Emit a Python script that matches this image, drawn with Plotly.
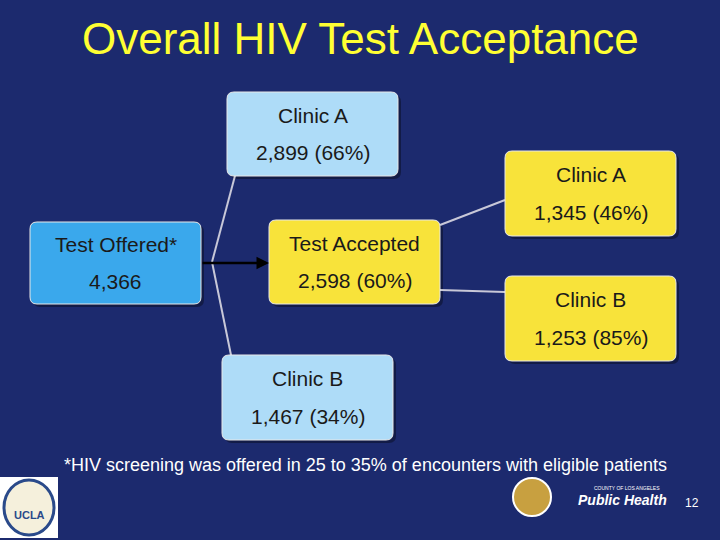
import plotly.graph_objects as go

# data
box_names = ["Test Offered*", "Test Accepted", "Clinic A", "Clinic B", "Clinic A", "Clinic B"]
box_counts = [4366, 2598, 2899, 1467, 1345, 1253]
box_pcts = [None, 60, 66, 34, 46, 85]
footnote = "*HIV screening was offered in 25 to 35% of encounters with eligible patients"
page_no = "12"

# layout boxes (x0, y0, x1, y1) in pixels, colour
boxes = [
    (30, 222, 201, 304, "#3aa8ec"),
    (269, 220, 440, 304, "#f8e33a"),
    (227, 92, 398, 176, "#aedcf8"),
    (222, 355, 393, 440, "#aedcf8"),
    (505, 151, 676, 236, "#f8e33a"),
    (505, 276, 676, 361, "#f8e33a"),
]

def rrect(x0, y0, x1, y1, r=7):
    return (f"M{x0+r},{y0} L{x1-r},{y0} Q{x1},{y0} {x1},{y0+r} L{x1},{y1-r} Q{x1},{y1} {x1-r},{y1} "
            f"L{x0+r},{y1} Q{x0},{y1} {x0},{y1-r} L{x0},{y0+r} Q{x0},{y0} {x0+r},{y0} Z")

fig = go.Figure()
shapes = []
annotations = []

# connector lines
for (xa, ya, xb, yb) in [(212, 262, 236, 172), (212, 262, 232, 360), (440, 225, 505, 200), (440, 290, 505, 292)]:
    shapes.append(dict(type="line", x0=xa, y0=ya, x1=xb, y1=yb, line=dict(color="#c8c8d8", width=2)))

for (x0, y0, x1, y1, c), name, cnt, pct in zip(boxes, box_names, box_counts, box_pcts):
    shapes.append(dict(type="path", path=rrect(x0 + 3, y0 + 3, x1 + 3, y1 + 3), fillcolor="rgba(0,0,0,0.35)", line_width=0, layer="below"))
    shapes.append(dict(type="path", path=rrect(x0, y0, x1, y1), fillcolor=c, line=dict(color="#e8e8e8", width=1)))
    val = f"{cnt:,}" + (f" ({pct}%)" if pct is not None else "")
    cx = (x0 + x1) / 2
    annotations.append(dict(x=cx, y=y0 + (y1 - y0) * 0.28, text=name, showarrow=False, font=dict(size=21, color="#1a1a1a")))
    annotations.append(dict(x=cx, y=y0 + (y1 - y0) * 0.72, text=val, showarrow=False, font=dict(size=21, color="#1a1a1a")))

# arrow
annotations.append(dict(x=269, y=263, ax=201, ay=263, xref="x", yref="y", axref="x", ayref="y", text="",
                        showarrow=True, arrowhead=2, arrowsize=1, arrowwidth=2.5, arrowcolor="black"))

annotations.append(dict(x=360, y=38, text="Overall HIV Test Acceptance", showarrow=False, font=dict(size=44, color="#ffff33")))
annotations.append(dict(x=62, y=465, text=footnote, showarrow=False, xanchor="left", font=dict(size=18, color="white")))
annotations.append(dict(x=692, y=503, text=page_no, showarrow=False, font=dict(size=12, color="white")))

# logos (simple stand-ins)
shapes.append(dict(type="rect", x0=0, y0=477, x1=58, y1=538, fillcolor="white", line_width=0))
shapes.append(dict(type="circle", x0=4, y0=480, x1=54, y1=535, fillcolor="#f5f0dc", line=dict(color="#2a4a8a", width=3)))
annotations.append(dict(x=29, y=515, text="<b>UCLA</b>", showarrow=False, font=dict(size=11, color="#2a4a8a")))
shapes.append(dict(type="circle", x0=513, y0=478, x1=551, y1=516, fillcolor="#c8a040", line=dict(color="white", width=2)))
annotations.append(dict(x=622, y=500, text="<b><i>Public Health</i></b>", showarrow=False, font=dict(size=14, color="white")))
annotations.append(dict(x=627, y=488, text="COUNTY OF LOS ANGELES", showarrow=False, font=dict(size=5, color="white")))

fig.update_layout(
    width=720, height=540, margin=dict(l=0, r=0, t=0, b=0),
    paper_bgcolor="#1c2a6e", plot_bgcolor="#1c2a6e",
    xaxis=dict(range=[0, 720], visible=False, fixedrange=True),
    yaxis=dict(range=[540, 0], visible=False, fixedrange=True),
    shapes=shapes, annotations=annotations,
    font=dict(family="Liberation Sans, Arial, sans-serif"),
    showlegend=False,
)
fig.write_html("out.html", config={"displayModeBar": False},
               post_script="document.body.style.margin='0';document.body.style.background='#1c2a6e';")
